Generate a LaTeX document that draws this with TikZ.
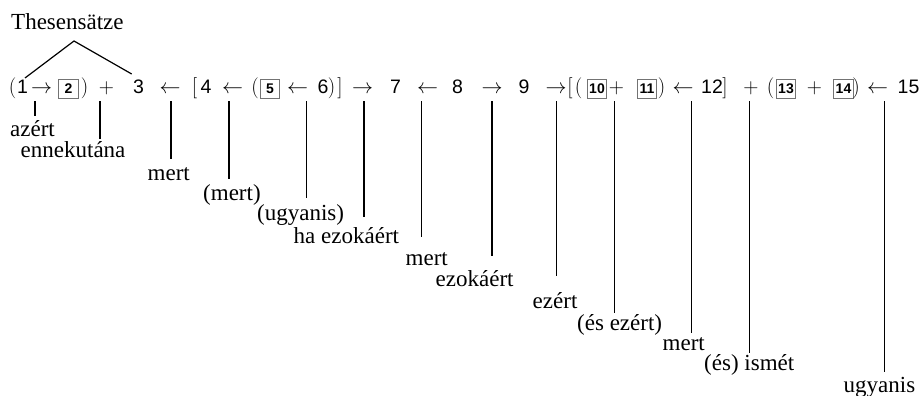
\RequirePackage{fix-cm}
\documentclass[tikz,border=0pt]{standalone}
\usepackage[no-math]{fontspec}
\setmainfont{Liberation Serif}
\setsansfont{Liberation Sans}

\begin{document}
\begin{tikzpicture}[x=1pt, y=-1pt,
  sym/.style={inner sep=0, anchor=base, font=\sffamily\fontsize{19.5}{20}\selectfont},
  op/.style={inner sep=0, anchor=base, font=\fontsize{21}{21}\selectfont},
  tag/.style={draw=black!55, line width=0.6pt, inner sep=0, minimum width=19.5pt, minimum height=19pt,
    font=\sffamily\bfseries\fontsize{14}{14}\selectfont},
  word/.style={inner sep=0, anchor=base west, font=\fontsize{23}{23}\selectfont},
  stem/.style={line width=1.2pt}]
  \useasboundingbox (0,0) rectangle (924,396);

  % Heading over 1 and 3
  \node[word] (thes) at (11,30) {Thesensätze};
  \coordinate (apex) at (74,41);
  \coordinate (hl) at (25,78);
  \coordinate (hr) at (131.7,74);
  \draw[stem] (hl) -- (apex) -- (hr);

  % The chain
  \node[op] (lp1) at (12.5,93.3) {$($};
  \node[sym] (d1) at (22.5,93.3) {1};
  \node[op] (r1) at (41.5,93.3) {$\rightarrow$};
  \node[tag] (d2) at (68.5,88.5) {2};
  \node[op] (rp1) at (84.5,93.3) {$)$};
  \node[op] (pl1) at (106.5,93.3) {$+$};
  \node[sym] (d3) at (138.5,93.3) {3};
  \node[op] (l1) at (170,93.3) {$\leftarrow$};
  \node[op] (lb1) at (194.5,93.3) {$[$};
  \node[sym] (d4) at (206,93.3) {4};
  \node[op] (l2) at (232.5,93.3) {$\leftarrow$};
  \node[op] (lp2) at (255,93.3) {$($};
  \node[tag] (d5) at (270,88.5) {5};
  \node[op] (l3) at (297.5,93.3) {$\leftarrow$};
  \node[sym] (d6) at (323,93.3) {6};
  \node[op] (rp2) at (331.5,93.3) {$)$};
  \node[op] (rb1) at (340,93.3) {$]$};
  \node[op] (r2) at (362.5,93.3) {$\rightarrow$};
  \node[sym] (d7) at (395.5,93.3) {7};
  \node[op] (l4) at (427.5,93.3) {$\leftarrow$};
  \node[sym] (d8) at (457.5,93.3) {8};
  \node[op] (r3) at (492,93.3) {$\rightarrow$};
  \node[sym] (d9) at (524,93.3) {9};
  \node[op] (r4) at (556,93.3) {$\rightarrow$};
  \node[op] (lb2) at (570,93.3) {$[$};
  \node[op] (lp3) at (578.5,93.3) {$($};
  \node[tag] (d10) at (597,88.5) {10};
  \node[op] (pl2) at (616.5,93.3) {$+$};
  \node[tag] (d11) at (647,88.5) {11};
  \node[op] (rp3) at (661.5,93.3) {$)$};
  \node[op] (l5) at (683,93.3) {$\leftarrow$};
  \node[sym] (d12) at (712,93.3) {12};
  \node[op] (rb2) at (725,93.3) {$]$};
  \node[op] (pl3) at (751,93.3) {$+$};
  \node[op] (lp4) at (770.5,93.3) {$($};
  \node[tag] (d13) at (786,88.5) {13};
  \node[op] (pl4) at (814.5,93.3) {$+$};
  \node[tag] (d14) at (843.5,88.5) {14};
  \node[op] (rp4) at (856,93.3) {$)$};
  \node[op] (l6) at (877.5,93.3) {$\leftarrow$};
  \node[sym] (d15) at (908.5,93.3) {15};

  % Connectives, one step lower each
  \node[word] (w1) at (10,136.7) {azért};
  \node[word] (w2) at (20.5,157.3) {ennekutána};
  \node[word] (w3) at (147.5,180) {mert};
  \node[word] (w4) at (203,200) {(mert)};
  \node[word] (w5) at (257,220.5) {(ugyanis)};
  \node[word] (w6) at (293.5,243) {ha ezokáért};
  \node[word] (w7) at (405.5,265) {mert};
  \node[word] (w8) at (435.5,286.5) {ezokáért};
  \node[word] (w9) at (532.5,308) {ezért};
  \node[word] (w10) at (577,330) {(és ezért)};
  \node[word] (w11) at (662.5,350.7) {mert};
  \node[word] (w12) at (704,370.5) {(és) ismét};
  \node[word] (w13) at (843.5,392) {ugyanis};

  % Stems from the chain down to the connectives
  \coordinate (t1) at (35,101);    \coordinate (f1) at (35,115.7);
  \coordinate (t2) at (100,101);   \coordinate (f2) at (100,139);
  \coordinate (t3) at (171,101);   \coordinate (f3) at (171,159);
  \coordinate (t4) at (229,101);   \coordinate (f4) at (229,179);
  \coordinate (t5) at (306.5,101); \coordinate (f5) at (306.5,198);
  \coordinate (t6) at (364,101);   \coordinate (f6) at (364,217);
  \coordinate (t7) at (421.7,101); \coordinate (f7) at (421.7,237);
  \coordinate (t8) at (492,101);   \coordinate (f8) at (492,256);
  \coordinate (t9) at (556.7,101); \coordinate (f9) at (556.7,275.7);
  \coordinate (t10) at (614.5,101); \coordinate (f10) at (614.5,313);
  \coordinate (t11) at (691.5,101); \coordinate (f11) at (691.5,333);
  \coordinate (t12) at (749.5,101); \coordinate (f12) at (749.5,352.7);
  \coordinate (t13) at (884.5,101); \coordinate (f13) at (884.5,371.7);
  \draw[stem] (t1) -- (f1);
  \draw[stem] (t2) -- (f2);
  \draw[stem] (t3) -- (f3);
  \draw[stem] (t4) -- (f4);
  \draw[stem] (t5) -- (f5);
  \draw[stem] (t6) -- (f6);
  \draw[stem] (t7) -- (f7);
  \draw[stem] (t8) -- (f8);
  \draw[stem] (t9) -- (f9);
  \draw[stem] (t10) -- (f10);
  \draw[stem] (t11) -- (f11);
  \draw[stem] (t12) -- (f12);
  \draw[stem] (t13) -- (f13);
\end{tikzpicture}
\end{document}
